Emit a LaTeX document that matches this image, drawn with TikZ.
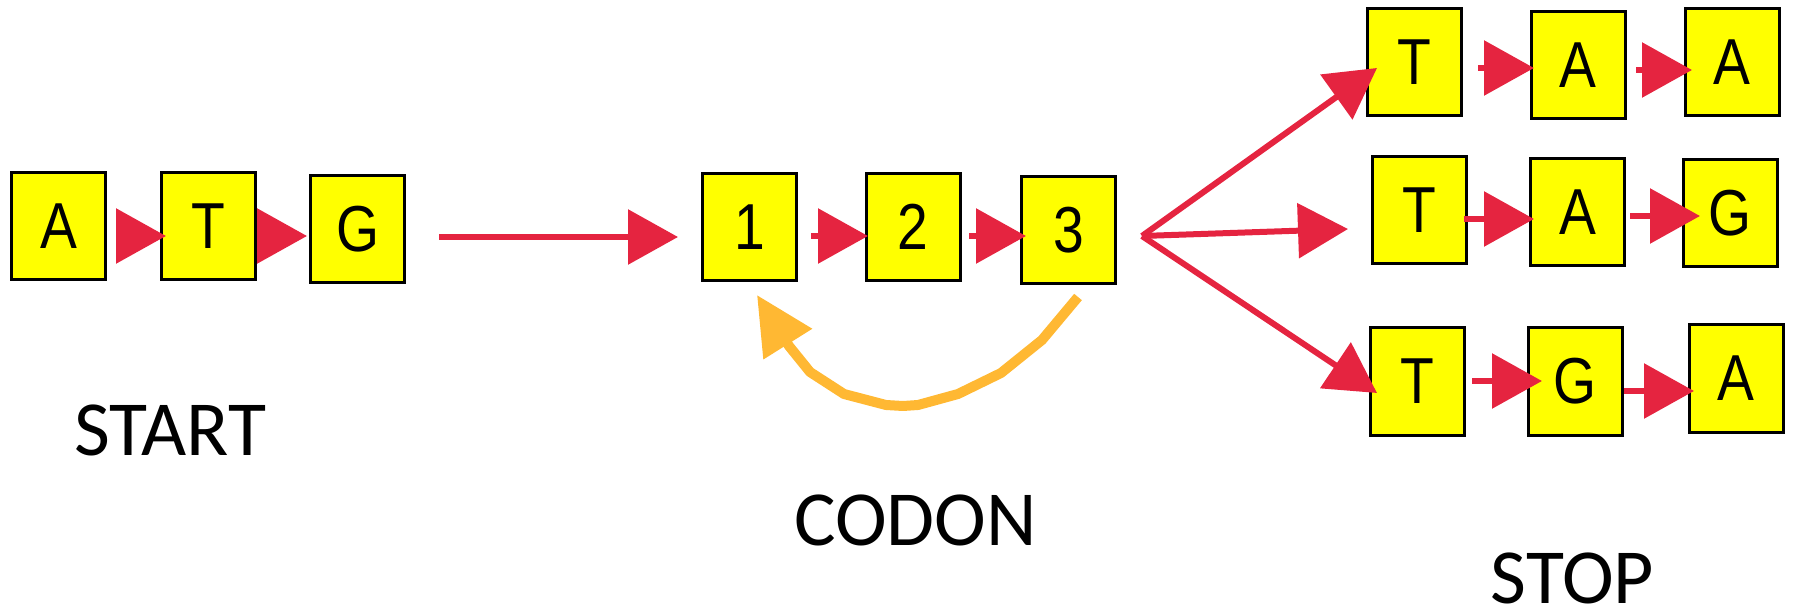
\documentclass[tikz,border=0pt]{standalone}
\usepackage{fontspec}
\usepackage{graphicx}
\usetikzlibrary{arrows.meta,calc}
\newfontfamily\boxfont{Liberation Sans}
\newfontfamily\labelfont{Carlito}
\definecolor{arrred}{HTML}{E52440}
\definecolor{looporange}{HTML}{FFB833}
\definecolor{boxyellow}{HTML}{FFFF00}
\newcommand{\basechar}[1]{\scalebox{0.85}[1]{#1}}
\tikzset{
  base/.style={draw=black, line width=3pt, fill=boxyellow, minimum width=94pt,
    minimum height=107pt, inner sep=0pt, outer sep=0pt,
    font=\boxfont\fontsize{65}{65}\selectfont},
  link/.style={draw=arrred, line width=6pt,
    -{Triangle[length=50pt,width=54pt]}},
  loopback/.style={draw=looporange, line width=10pt, line join=round,
    -{Triangle[length=58pt,width=55pt]}},
  caption/.style={anchor=base, inner sep=0pt, text depth=0pt,
    font=\labelfont\fontsize{78}{78}\selectfont}
}
\begin{document}
\begin{tikzpicture}[x=1pt, y=-1pt]
\useasboundingbox (0,0) rectangle (1793,609);

% start codon
\node[base] (sA) at (58.5,226)  {\basechar{A}};
\node[base] (sT) at (208.5,226) {\basechar{T}};
\node[base] (sG) at (357.5,229.5) {\basechar{G}};

% codon positions
\node[base] (c1) at (749.5,227) {\basechar{1}};
\node[base] (c2) at (913,227)   {\basechar{2}};
\node[base] (c3) at (1068.5,230) {\basechar{3}};

% stop codons
\node[base] (r1T) at (1414.5,62)  {\basechar{T}};
\node[base] (r1A) at (1578,65.5)  {\basechar{A}};
\node[base] (r1B) at (1732,62)    {\basechar{A}};
\node[base] (r2T) at (1419.5,210) {\basechar{T}};
\node[base] (r2A) at (1577.5,212.5) {\basechar{A}};
\node[base] (r2G) at (1730,213.5) {\basechar{G}};
\node[base] (r3T) at (1417,381.5) {\basechar{T}};
\node[base] (r3G) at (1575,381.5) {\basechar{G}};
\node[base] (r3A) at (1736,378.5) {\basechar{A}};

% labels
\node[caption] (lstart) at (170.5,455) {START};
\node[caption] (lcodon) at (915.5,545) {CODON};
\node[caption] (lstop)  at (1572.5,603) {STOP};

% start chain
\draw[link] ($(sA.east)+(10.5,10)$) -- ($(sT.west)+(4.5,10)$);
\draw[link] ($(sT.east)+(2,10)$) -- ($(sG.west)+(-3.5,6.5)$);
\draw[link] ($(sG.east)+(34.5,7.5)$) -- ($(c1.west)+(-24.5,10)$);

% codon chain
\draw[link] ($(c1.east)+(14.5,9)$) -- ($(c2.west)+(2,9)$);
\draw[link] ($(c2.east)+(9,9)$) -- ($(c3.west)+(4.5,6)$);

% fork towards the three stop codons
\coordinate (fork) at ($(c3.east)+(26.5,6)$);
\draw[link] (fork) -- ($(r1T.west)+(9.5,6)$);
\draw[link] (fork) -- ($(r2T.west)+(-24.5,19)$);
\draw[link] (fork) -- ($(r3T.west)+(7,11.5)$);

% stop chains
\draw[link] ($(r1T.east)+(16.5,6)$) -- ($(r1A.west)+(3,2.5)$);
\draw[link] ($(r1A.east)+(11,4.5)$) -- ($(r1B.west)+(7,8)$);
\draw[link] ($(r2T.east)+(-2.5,9)$) -- ($(r2A.west)+(3.5,6.5)$);
\draw[link] ($(r2A.east)+(5.5,3.5)$) -- ($(r2G.west)+(17,2.5)$);
\draw[link] ($(r3T.east)+(8,-0.5)$) -- ($(r3G.west)+(14,-0.5)$);
\draw[link] ($(r3G.east)+(2,9.5)$) -- ($(r3A.west)+(5,12.5)$);

% loop from the third position back to the first
\draw[loopback] ($(c3.south)+(9.5,13.5)$) -- (1042,340) -- (1001,373)
  -- (958,394) -- (918,405) -- (903,406) -- (886,405) -- (844,394)
  -- (810,372) -- (789,346) -- ($(c1.south)+(7.5,14.5)$);
\end{tikzpicture}
\end{document}
